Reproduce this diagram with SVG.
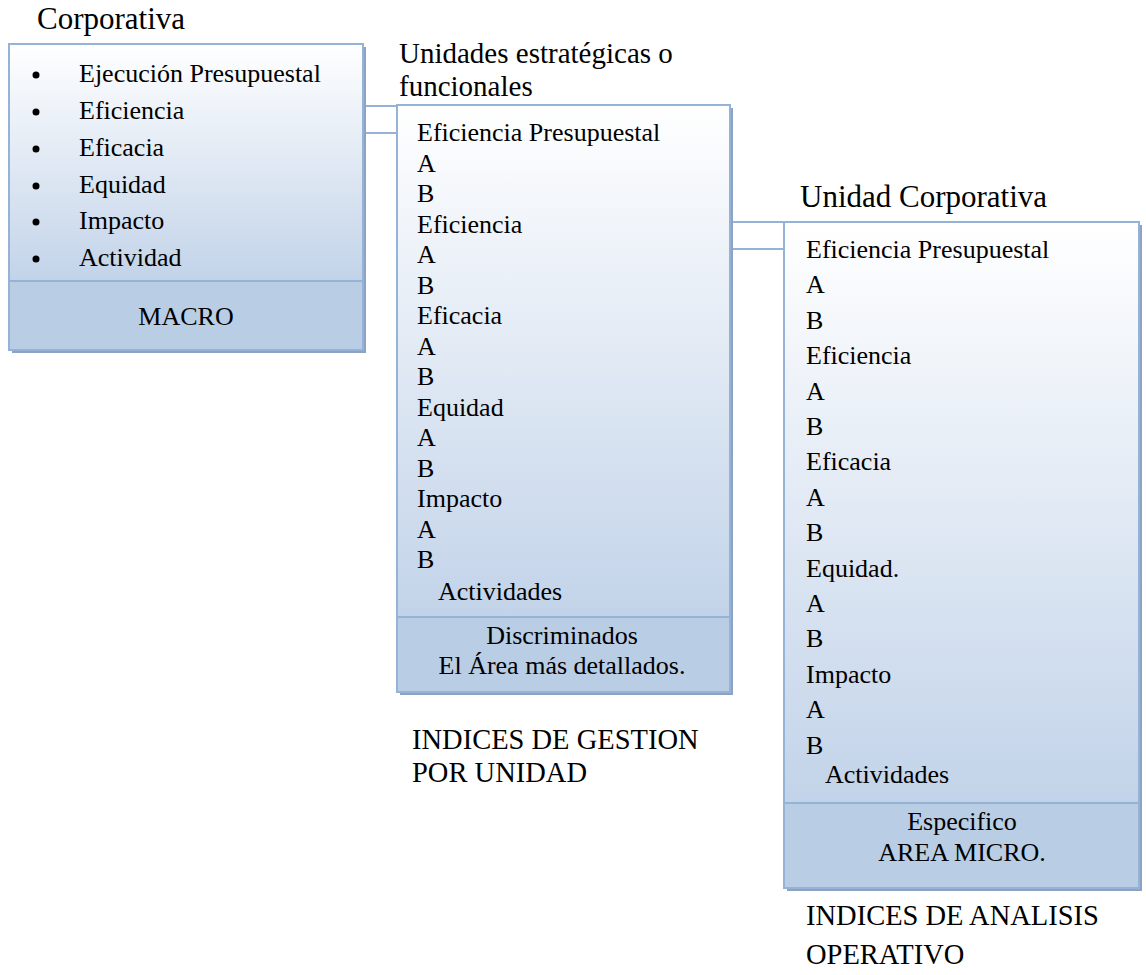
<svg xmlns="http://www.w3.org/2000/svg" width="1146" height="975" viewBox="0 0 1146 975">
  <style>
    text { font-family: "Liberation Serif", "Times New Roman", serif; fill: #000; }
    .title { font-size: 31px; }
    .title2 { font-size: 29px; }
    .body { font-size: 26px; }
    .idx { font-size: 28.5px; }
    .mid { text-anchor: middle; }
    .frame { stroke: #95b3d7; stroke-width: 2; }
    .shadow { fill: #8ca3c3; }
    .foot { fill: #b9cde5; }
    .link { stroke: #95b3d7; stroke-width: 2; fill: none; }
  </style>
  <defs>
    <linearGradient id="panel" x1="0" y1="0" x2="0" y2="1">
      <stop offset="0" stop-color="#ffffff"/>
      <stop offset="1" stop-color="#c2d3e9"/>
    </linearGradient>
  </defs>

  <rect width="1146" height="975" fill="#ffffff"/>

  <!-- connectors between the levels -->
  <g id="connectors">
    <line class="link" x1="363" y1="106" x2="397" y2="106"/>
    <line class="link" x1="363" y1="133" x2="397" y2="133"/>
    <line class="link" x1="730" y1="222" x2="784" y2="222"/>
    <line class="link" x1="730" y1="249" x2="784" y2="249"/>
  </g>

  <!-- corporate level -->
  <g id="corporativa">
    <text class="title" x="37" y="29">Corporativa</text>
    <rect class="shadow" x="12" y="47" width="354" height="306"/>
    <rect x="9" y="44" width="354" height="237" fill="url(#panel)"/>
    <rect class="foot" x="9" y="281" width="354" height="69"/>
    <rect class="frame" x="9" y="44" width="354" height="306" fill="none"/>
    <line class="frame" x1="9" y1="281" x2="363" y2="281"/>
    <circle cx="36" cy="75" r="3.5"/>
    <circle cx="36" cy="112" r="3.5"/>
    <circle cx="36" cy="149" r="3.5"/>
    <circle cx="36" cy="186" r="3.5"/>
    <circle cx="36" cy="222" r="3.5"/>
    <circle cx="36" cy="259" r="3.5"/>
    <text class="body" x="79" y="82">Ejecución Presupuestal</text>
    <text class="body" x="79" y="119">Eficiencia</text>
    <text class="body" x="79" y="156">Eficacia</text>
    <text class="body" x="79" y="193">Equidad</text>
    <text class="body" x="79" y="229">Impacto</text>
    <text class="body" x="79" y="266">Actividad</text>
    <text class="body mid" x="186" y="325">MACRO</text>
  </g>

  <!-- strategic / functional units -->
  <g id="unidades">
    <text class="title2" x="399" y="63">Unidades estratégicas o</text>
    <text class="title2" x="399" y="96">funcionales</text>
    <rect class="shadow" x="400" y="108" width="333" height="587"/>
    <rect x="397" y="105" width="333" height="512" fill="url(#panel)"/>
    <rect class="foot" x="397" y="617" width="333" height="75"/>
    <rect class="frame" x="397" y="105" width="333" height="587" fill="none"/>
    <line class="frame" x1="397" y1="617" x2="730" y2="617"/>
    <text class="body" x="417" y="141">Eficiencia Presupuestal</text>
    <text class="body" x="417" y="171.5">A</text>
    <text class="body" x="417" y="202">B</text>
    <text class="body" x="417" y="232.5">Eficiencia</text>
    <text class="body" x="417" y="263">A</text>
    <text class="body" x="417" y="293.5">B</text>
    <text class="body" x="417" y="324">Eficacia</text>
    <text class="body" x="417" y="354.5">A</text>
    <text class="body" x="417" y="385">B</text>
    <text class="body" x="417" y="415.5">Equidad</text>
    <text class="body" x="417" y="446">A</text>
    <text class="body" x="417" y="476.5">B</text>
    <text class="body" x="417" y="507">Impacto</text>
    <text class="body" x="417" y="537.5">A</text>
    <text class="body" x="417" y="568">B</text>
    <text class="body mid" x="500" y="600">Actividades</text>
    <text class="body mid" x="562" y="644">Discriminados</text>
    <text class="body mid" x="562" y="674">El Área más detallados.</text>
    <text class="idx" x="412" y="749">INDICES DE GESTION</text>
    <text class="idx" x="412" y="782">POR UNIDAD</text>
  </g>

  <!-- corporate unit detail -->
  <g id="unidad-corporativa">
    <text class="title" x="800" y="207">Unidad Corporativa</text>
    <rect class="shadow" x="787" y="225" width="355" height="666"/>
    <rect x="784" y="222" width="355" height="581" fill="url(#panel)"/>
    <rect class="foot" x="784" y="803" width="355" height="85"/>
    <rect class="frame" x="784" y="222" width="355" height="666" fill="none"/>
    <line class="frame" x1="784" y1="803" x2="1139" y2="803"/>
    <text class="body" x="806" y="258">Eficiencia Presupuestal</text>
    <text class="body" x="806" y="293.4">A</text>
    <text class="body" x="806" y="328.8">B</text>
    <text class="body" x="806" y="364.2">Eficiencia</text>
    <text class="body" x="806" y="399.6">A</text>
    <text class="body" x="806" y="435">B</text>
    <text class="body" x="806" y="470.4">Eficacia</text>
    <text class="body" x="806" y="505.8">A</text>
    <text class="body" x="806" y="541.2">B</text>
    <text class="body" x="806" y="576.6">Equidad.</text>
    <text class="body" x="806" y="612">A</text>
    <text class="body" x="806" y="647.4">B</text>
    <text class="body" x="806" y="682.8">Impacto</text>
    <text class="body" x="806" y="718.2">A</text>
    <text class="body" x="806" y="753.6">B</text>
    <text class="body mid" x="887" y="783">Actividades</text>
    <text class="body mid" x="962" y="830">Especifico</text>
    <text class="body mid" x="962" y="861">AREA MICRO.</text>
    <text class="idx" x="806" y="925">INDICES DE ANALISIS</text>
    <text class="idx" x="806" y="964">OPERATIVO</text>
  </g>
</svg>
